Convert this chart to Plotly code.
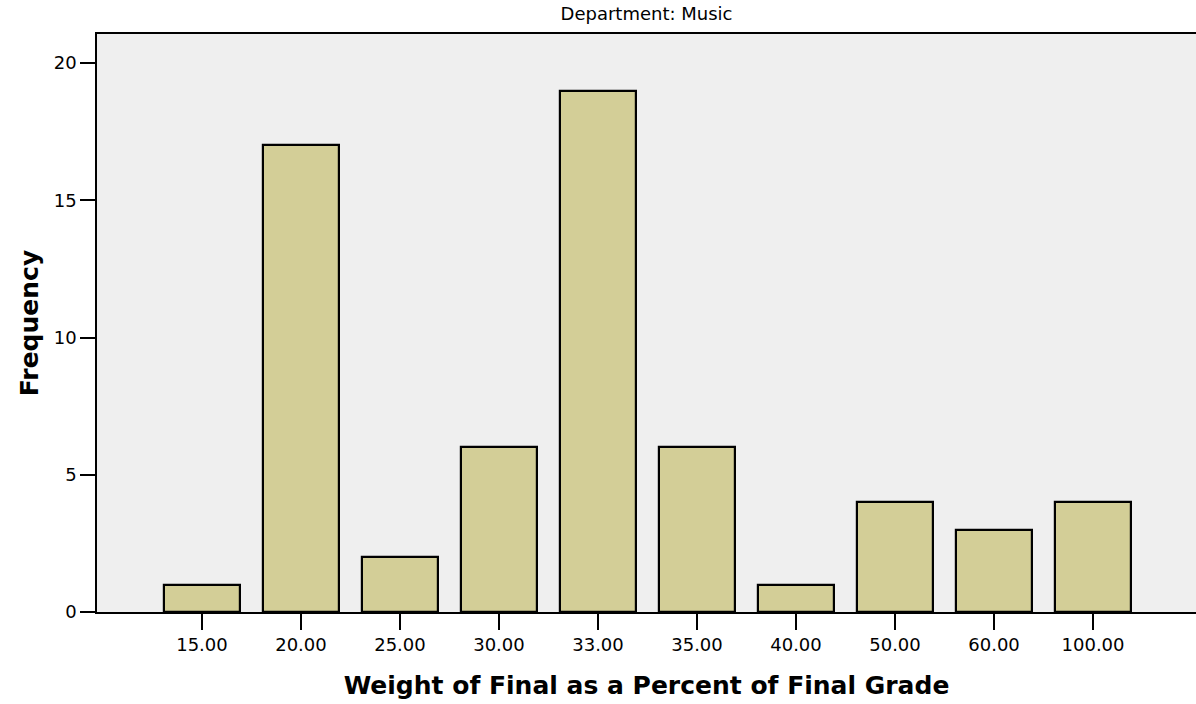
import plotly.graph_objects as go

categories = ["15.00", "20.00", "25.00", "30.00", "33.00", "35.00", "40.00", "50.00", "60.00", "100.00"]
frequencies = [1, 17, 2, 6, 19, 6, 1, 4, 3, 4]
y_ticks = [0, 5, 10, 15, 20]

fig = go.Figure(go.Bar(
    x=list(range(len(categories))),
    y=frequencies,
    width=0.76,
    marker=dict(color="#D3CE97", line=dict(color="#000000", width=2.2)),
))

font_family = "DejaVu Sans, Arial, sans-serif"
fig.update_layout(
    width=1196, height=704,
    margin=dict(l=97, r=0, t=34, b=92, autoexpand=False),
    paper_bgcolor="#FFFFFF",
    plot_bgcolor="#EFEFEF",
    showlegend=False,
    font=dict(family=font_family, color="#000000", size=18),
    title=dict(text="Department: Music", x=0.5, xref="paper", xanchor="center",
               y=1 - 14 / 704, yanchor="middle", font=dict(size=18)),
    bargap=0,
)
fig.update_xaxes(
    range=[-1.06, 10.04],
    tickmode="array",
    tickvals=list(range(len(categories))),
    ticktext=categories,
    ticks="outside", ticklen=16, tickwidth=2, tickcolor="#000000",
    showline=True, linecolor="#000000", linewidth=1.5, mirror=True,
    showgrid=False, zeroline=False, automargin=False,
    title=dict(text="<b>Weight of Final as a Percent of Final Grade</b>",
               font=dict(size=25), standoff=22),
)
fig.update_yaxes(
    range=[0, 21.06],
    tickmode="array",
    tickvals=y_ticks,
    ticks="outside", ticklen=15, tickwidth=2, tickcolor="#000000",
    showline=True, linecolor="#000000", linewidth=1.5,
    showgrid=False, zeroline=False, automargin=False,
    title=dict(text="<b>Frequency</b>", font=dict(size=25), standoff=8),
)

fig.write_html("out.html", config={"displayModeBar": False},
               post_script="document.body.style.margin='0px';")
